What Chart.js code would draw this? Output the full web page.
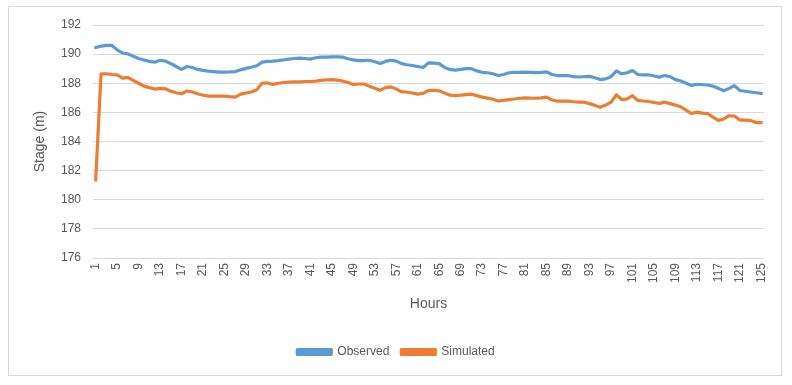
<!DOCTYPE html>
<html>
<head>
<meta charset="utf-8">
<script src="https://cdn.jsdelivr.net/npm/chart.js@4"></script>
<style>
html,body{margin:0;padding:0;background:#fff;}
#wrap{position:relative;width:792px;height:385px;}
#frame{position:absolute;left:8px;top:6px;width:774px;height:370px;border:1px solid #d9d9d9;box-sizing:border-box;pointer-events:none;}
canvas{position:absolute;left:0;top:0;}
</style>
</head>
<body>
<div id="wrap">
<div id="frame"></div>
<canvas id="c" width="792" height="385"></canvas>
</div>
<script>
const hours = Array.from({length: 125}, (_, i) => String(i + 1));

const observed = [
190.45,190.55,190.6,190.6,190.3,190.08,190.02,189.85,189.7,189.6,
189.5,189.45,189.58,189.52,189.35,189.15,188.95,189.15,189.08,188.95,
188.88,188.83,188.8,188.77,188.77,188.78,188.8,188.92,189.02,189.1,
189.2,189.45,189.5,189.52,189.55,189.6,189.66,189.7,189.73,189.7,
189.66,189.75,189.8,189.8,189.81,189.81,189.8,189.68,189.6,189.55,
189.55,189.58,189.48,189.35,189.5,189.58,189.52,189.35,189.27,189.22,
189.15,189.08,189.4,189.38,189.35,189.08,188.95,188.9,188.95,189.0,
189.0,188.85,188.75,188.72,188.65,188.53,188.6,188.72,188.75,188.75,
188.77,188.75,188.73,188.75,188.78,188.6,188.53,188.53,188.53,188.45,
188.43,188.45,188.47,188.38,188.25,188.3,188.45,188.85,188.65,188.72,
188.88,188.6,188.58,188.58,188.5,188.42,188.53,188.45,188.25,188.15,
188.0,187.85,187.93,187.9,187.88,187.8,187.65,187.48,187.65,187.84,
187.5,187.45,187.4,187.35,187.3
];

const simulated = [
181.35,188.65,188.65,188.6,188.58,188.35,188.4,188.2,188.0,187.8,
187.7,187.6,187.65,187.62,187.45,187.35,187.28,187.47,187.4,187.28,
187.18,187.12,187.12,187.12,187.12,187.08,187.05,187.25,187.33,187.4,
187.55,188.0,188.02,187.92,188.0,188.05,188.08,188.1,188.1,188.12,
188.12,188.15,188.2,188.23,188.25,188.22,188.15,188.05,187.92,187.95,
187.95,187.8,187.65,187.52,187.7,187.75,187.6,187.42,187.38,187.33,
187.25,187.3,187.5,187.52,187.48,187.33,187.18,187.15,187.18,187.22,
187.25,187.15,187.05,186.98,186.9,186.78,186.82,186.88,186.92,186.97,
187.0,186.98,186.97,187.0,187.05,186.85,186.77,186.77,186.77,186.73,
186.7,186.7,186.6,186.48,186.35,186.5,186.7,187.2,186.88,186.93,
187.15,186.82,186.78,186.75,186.68,186.62,186.7,186.6,186.5,186.38,
186.15,185.92,186.02,185.95,185.92,185.68,185.45,185.55,185.77,185.75,
185.47,185.47,185.45,185.3,185.3
];

const yTicks = [176,178,180,182,184,186,188,190,192];

const FONT = "'Liberation Sans', 'DejaVu Sans', sans-serif";
const TXT = '#595959';

new Chart(document.getElementById('c'), {
  type: 'line',
  data: {
    labels: hours,
    datasets: [
      { label: 'Observed', data: observed, borderColor: '#5B9BD5', backgroundColor: '#5B9BD5',
        borderWidth: 3.2, pointRadius: 0, tension: 0, borderJoinStyle: 'round', borderCapStyle: 'round' },
      { label: 'Simulated', data: simulated, borderColor: '#ED7D31', backgroundColor: '#ED7D31',
        borderWidth: 3.2, pointRadius: 0, tension: 0, borderJoinStyle: 'round', borderCapStyle: 'round' }
    ]
  },
  options: {
    responsive: false,
    animation: false,
    devicePixelRatio: 1,
    layout: { padding: { left: 28, right: 28, top: 25, bottom: 17 } },
    plugins: {
      tooltip: { enabled: false },
      legend: {
        position: 'bottom',
        labels: {
          boxWidth: 34, boxHeight: 5, padding: 12,
          color: TXT, font: { family: FONT, size: 12 }
        }
      }
    },
    scales: {
      x: {
        type: 'category',
        offset: true,
        grid: { display: false, drawTicks: false },
        border: { display: false },
        ticks: {
          autoSkip: false, minRotation: 90, maxRotation: 90, padding: 5,
          color: TXT, font: { family: FONT, size: 12 },
          callback: function(v, i) { return (i % 4 === 0) ? hours[i] : ''; }
        },
        title: { display: true, text: 'Hours', color: TXT, font: { family: FONT, size: 14 },
                 padding: { top: 0, bottom: 21 } },
        afterFit: function(s) { s.height = 76; }
      },
      y: {
        min: 176, max: 192,
        afterBuildTicks: function(s) { s.ticks = yTicks.map(v => ({ value: v })); },
        grid: { color: '#d9d9d9', drawTicks: false, lineWidth: 1 },
        border: { display: false },
        ticks: { padding: 12, color: TXT, font: { family: FONT, size: 12 } },
        title: { display: true, text: 'Stage (m)', color: TXT, font: { family: FONT, size: 14 },
                 padding: { top: 4, bottom: 0 } },
        afterFit: function(s) { s.width = 65; }
      }
    }
  }
});
</script>
</body>
</html>
